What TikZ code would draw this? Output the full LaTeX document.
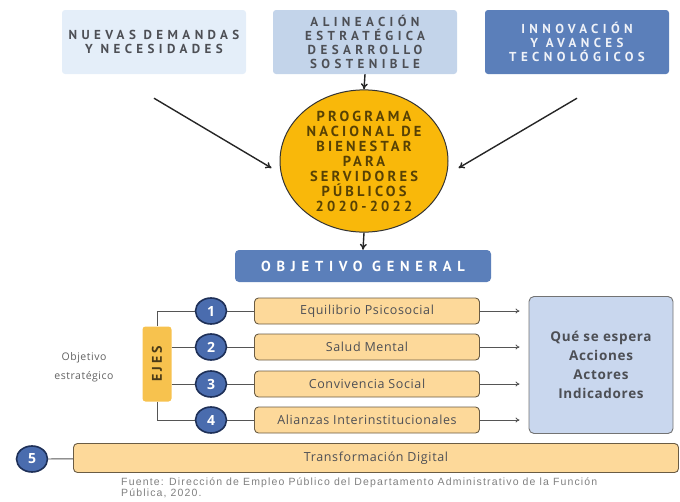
\documentclass[tikz,border=0pt]{standalone}
\usepackage{fontspec}
\setmainfont{Open Sans}
\newfontfamily\titfont{PT Sans}[LetterSpace=34]
\newfontfamily\objfont{PT Sans}[LetterSpace=40]
\newfontfamily\circfont{PT Sans}[LetterSpace=22]
\newfontfamily\cajafont{Open Sans}[LetterSpace=5]
\newfontfamily\notafont{Liberation Sans}[LetterSpace=11]
\usepackage{xcolor}
\usetikzlibrary{shapes.geometric,arrows.meta}

\definecolor{celeste}{HTML}{E4EEF9}
\definecolor{azulclaro}{HTML}{C3D4EA}
\definecolor{azulmedio}{HTML}{5B7FBA}
\definecolor{azuloscuro}{HTML}{1E3058}
\definecolor{azulnum}{HTML}{4A6CAE}
\definecolor{ambar}{HTML}{F9B80A}
\definecolor{crema}{HTML}{FDD99A}
\definecolor{mostaza}{HTML}{F7C24E}
\definecolor{lila}{HTML}{C9D7EE}
\definecolor{grisborde}{HTML}{6A5C44}
\definecolor{gristexto}{HTML}{4D4F55}
\definecolor{grislinea}{HTML}{555555}

\begin{document}
\begin{tikzpicture}[
    x=1pt, y=-1pt,
    every node/.style={align=center, inner sep=2pt},
    topbox/.style={rounded corners=3pt, minimum width=184pt, minimum height=64pt,
        font=\titfont\bfseries\fontsize{13}{14}\selectfont},
    centro/.style={ellipse, draw=black!80, line width=1pt, fill=ambar, inner sep=0pt,
        minimum width=168pt, minimum height=128pt, text=black!65!ambar,
        font=\circfont\bfseries\fontsize{14.5}{15}\selectfont},
    itembox/.style={rounded corners=4pt, draw=grisborde, line width=0.9pt, fill=crema,
        minimum width=225pt, minimum height=26pt, text=gristexto,
        font=\cajafont\fontsize{12.5}{13}\selectfont},
    numcirc/.style={ellipse, draw=azuloscuro, line width=1.6pt, fill=azulnum, inner sep=0pt,
        minimum width=31pt, minimum height=26pt, text=white,
        font=\cajafont\bfseries\fontsize{14}{14}\selectfont},
    flecha/.style={-{To[length=6pt,width=7pt]}, line width=1.4pt, black!85},
    flechita/.style={-{To[length=4pt,width=5pt]}, line width=0.8pt, grislinea},
    linea/.style={line width=0.9pt, grislinea}
]
    \useasboundingbox (0,0) rectangle (680,501);

    % cajas superiores
    \node[topbox, fill=celeste, text=gristexto] (demandas) at (154,42)
        {NUEVAS DEMANDAS\\Y NECESIDADES};
    \node[topbox, fill=azulclaro, text=gristexto] (alineacion) at (365,42)
        {ALINEACIÓN\\ESTRATÉGICA\\DESARROLLO\\SOSTENIBLE};
    \node[topbox, fill=azulmedio, text=white!90!azulmedio] (innovacion) at (577,42)
        {INNOVACIÓN\\Y AVANCES\\TECNOLÓGICOS};

    % programa
    \node[centro] (programa) at (364,161)
        {PROGRAMA\\NACIONAL DE\\BIENESTAR\\PARA\\SERVIDORES\\PÚBLICOS\\2020-2022};

    \draw[flecha] ([yshift=-24pt]demandas.south) -- ([xshift=-8pt,yshift=-7pt]programa.west);
    \draw[flecha] (alineacion.south) -- (programa.north);
    \draw[flecha] ([yshift=-24pt]innovacion.south) -- ([xshift=10pt,yshift=-7pt]programa.east);

    % objetivo general
    \node[rounded corners=4pt, fill=azulmedio, text=white, minimum width=256pt, minimum height=32pt,
        font=\objfont\bfseries\fontsize{14.5}{14}\selectfont] (objetivo) at (363,266) {OBJETIVO GENERAL};
    \draw[flecha] (programa.south) -- (objetivo.north);

    % ejes
    \node[itembox] (e1) at (367,311) {Equilibrio Psicosocial};
    \node[itembox] (e2) at (367,347) {Salud Mental};
    \node[itembox] (e3) at (367,384) {Convivencia Social};
    \node[itembox] (e4) at (367,420) {Alianzas Interinstitucionales};

    \node[numcirc] (n1) at (211,311) {1};
    \node[numcirc] (n2) at (211,347) {2};
    \node[numcirc] (n3) at (211,384) {3};
    \node[numcirc] (n4) at (211,420) {4};

    \node[fill=mostaza, rounded corners=3pt, minimum width=75pt, minimum height=29pt, inner sep=0pt,
        text=black!70!mostaza, rotate=90, font=\circfont\bfseries\fontsize{14}{14}\selectfont]
        (ejes) at (157,364) {EJES};

    \node[text=black!62, font=\cajafont\fontsize{10.5}{19}\selectfont] (estrategico) at (84,367)
        {Objetivo\\estratégico};

    \node[rounded corners=5pt, draw=black!55, line width=0.9pt, fill=lila, minimum width=144pt,
        minimum height=137pt, text=gristexto, font=\cajafont\bfseries\fontsize{13.5}{19}\selectfont]
        (espera) at (601,365) {Qué se espera\\Acciones\\Actores\\Indicadores};

    \foreach \i in {1,...,4} {
        \draw[linea] (n\i) -- (e\i);
        \draw[flechita, shorten >=9pt] (e\i.east) -- (e\i.east -| espera.west);
    }
    \draw[linea] (n1.west) -| (ejes.east);
    \draw[linea] (n4.west) -| (ejes.west);
    \draw[linea] (ejes.south |- n2) -- (n2);
    \draw[linea] (ejes.south |- n3) -- (n3);

    % transformacion digital
    \node[numcirc] (n5) at (32,459) {5};
    \node[itembox, minimum width=605pt, minimum height=29pt] (e5) at (376,458) {Transformación Digital};
    \draw[linea] (n5) -- (e5);

    % fuente
    \node[anchor=north west, align=left, inner sep=0pt, text=black!50,
        font=\notafont\fontsize{10.5}{11}\selectfont] (fuente) at (121,478)
        {Fuente: Dirección de Empleo Público del Departamento Administrativo de la Función\\Pública, 2020.};
\end{tikzpicture}
\end{document}
